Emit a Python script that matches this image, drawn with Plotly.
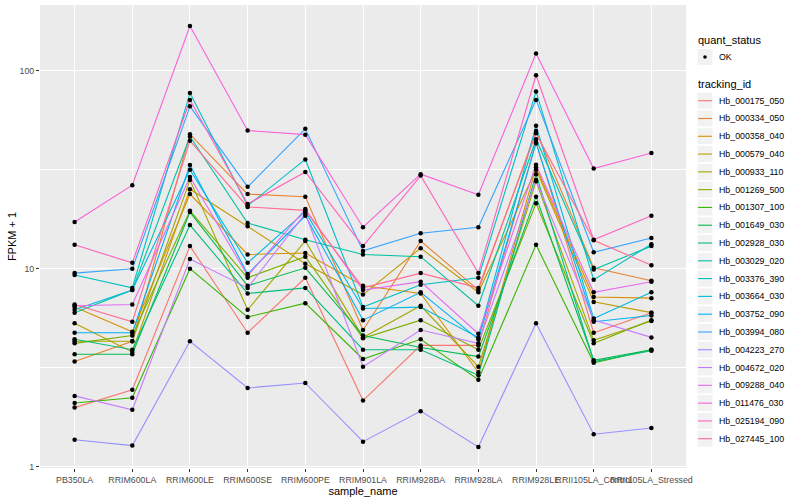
import plotly.graph_objects as go

samples = ["PB350LA", "RRIM600LA", "RRIM600LE", "RRIM600SE", "RRIM600PE", "RRIM901LA",
           "RRIM928BA", "RRIM928LA", "RRIM928LE", "RRII105LA_Control", "RRII105LA_Stressed"]

hb_000175_050 = [1.99, 2.45, 13.0, 4.75, 9.0, 2.16, 4.1, 4.1, 43.5, 4.75, 6.0]
hb_000334_050 = [3.4, 4.3, 47.7, 23.8, 23.1, 4.9, 13.8, 7.8, 49.5, 10.1, 8.7]
hb_000358_040 = [6.4, 4.8, 23.8, 11.8, 12.0, 8.2, 7.5, 3.0, 32.5, 7.2, 7.1]
hb_000579_040 = [5.3, 3.8, 25.2, 16.4, 10.6, 7.4, 12.7, 7.6, 31.6, 6.8, 6.0]
hb_000933_110 = [4.3, 4.3, 28.0, 6.2, 13.8, 4.5, 6.5, 3.2, 27.6, 4.35, 5.45]
hb_001269_500 = [4.2, 4.6, 19.6, 9.0, 11.5, 4.45, 5.5, 3.9, 21.4, 4.2, 5.5]
hb_001307_100 = [2.1, 2.23, 10.0, 5.7, 6.7, 3.5, 4.4, 2.75, 13.2, 3.35, 3.9]
hb_001649_030 = [3.7, 3.7, 19.3, 8.2, 10.1, 4.6, 4.0, 3.6, 23.1, 3.45, 3.9]
hb_002928_030 = [4.4, 3.9, 16.6, 7.5, 8.0, 3.9, 3.9, 2.9, 30.0, 3.4, 3.85]
hb_003029_020 = [6.0, 7.8, 46.5, 17.0, 14.0, 11.8, 11.5, 6.5, 45.0, 9.9, 13.0]
hb_003376_390 = [9.3, 8.0, 77.0, 20.8, 35.6, 6.4, 8.3, 9.0, 78.3, 8.8, 13.3]
hb_003664_030 = [6.2, 7.8, 31.6, 10.7, 19.4, 6.3, 6.4, 4.5, 52.7, 5.6, 7.6]
hb_003752_090 = [4.75, 4.75, 33.4, 9.4, 18.5, 5.5, 7.6, 4.4, 43.0, 5.4, 5.8]
hb_003994_080 = [9.5, 10.0, 66.0, 25.9, 50.8, 12.3, 15.1, 16.2, 71.1, 12.1, 14.3]
hb_004223_270 = [1.37, 1.28, 4.3, 2.5, 2.65, 1.34, 1.91, 1.26, 5.3, 1.46, 1.57]
hb_004672_020 = [2.28, 1.94, 11.2, 8.0, 19.0, 3.2, 4.9, 4.2, 28.0, 5.5, 4.5]
hb_009288_040 = [6.5, 6.6, 29.0, 9.2, 20.0, 7.8, 8.6, 4.7, 33.5, 7.6, 8.6]
hb_011476_030 = [17.2, 26.4, 168.0, 49.8, 47.5, 16.2, 30.0, 23.6, 122.0, 32.0, 38.4]
hb_025194_090 = [13.2, 10.7, 71.0, 21.2, 30.8, 13.0, 29.5, 9.5, 94.7, 14.0, 18.5]
hb_027445_100 = [6.6, 5.4, 44.2, 20.5, 19.7, 8.0, 9.5, 8.0, 48.2, 13.9, 10.4]

tracking_ids = ["Hb_000175_050", "Hb_000334_050", "Hb_000358_040", "Hb_000579_040",
                "Hb_000933_110", "Hb_001269_500", "Hb_001307_100", "Hb_001649_030",
                "Hb_002928_030", "Hb_003029_020", "Hb_003376_390", "Hb_003664_030",
                "Hb_003752_090", "Hb_003994_080", "Hb_004223_270", "Hb_004672_020",
                "Hb_009288_040", "Hb_011476_030", "Hb_025194_090", "Hb_027445_100"]
series = [hb_000175_050, hb_000334_050, hb_000358_040, hb_000579_040, hb_000933_110,
          hb_001269_500, hb_001307_100, hb_001649_030, hb_002928_030, hb_003029_020,
          hb_003376_390, hb_003664_030, hb_003752_090, hb_003994_080, hb_004223_270,
          hb_004672_020, hb_009288_040, hb_011476_030, hb_025194_090, hb_027445_100]
colors = ["#F8766D", "#EA8331", "#D89000", "#C09B00", "#A3A500", "#7CAE00", "#39B600",
          "#00BB4E", "#00BF7D", "#00C1A3", "#00BFC4", "#00BAE0", "#00B0F6", "#35A2FF",
          "#9590FF", "#C77CFF", "#E76BF3", "#FA62DB", "#FF62BC", "#FF6C91"]
status_labels = ["OK"]

FONT = "Liberation Sans, Arial, sans-serif"
W, H = 800, 500
ML, MR, MT, MB = 40, 114, 5, 32
PW, PH = W - ML - MR, H - MT - MB


def px(xp):
    return (xp - ML) / PW


def py(yp):
    return (H - MB - yp) / PH


fig = go.Figure()

for tid, vals, col in zip(tracking_ids, series, colors):
    fig.add_trace(go.Scatter(x=samples, y=vals, mode="lines", name=tid,
                             line=dict(color=col, width=1.1), showlegend=False,
                             hoverinfo="skip"))

all_x, all_y = [], []
for vals in series:
    all_x += samples
    all_y += vals
fig.add_trace(go.Scatter(x=all_x, y=all_y, mode="markers", name=status_labels[0],
                         showlegend=False, marker=dict(color="black", size=4.5)))

# ---- ggplot-style legend (layout decoration) ----
shapes, annots = [], []
LX0, LX1 = 697.5, 712.5          # key box horizontal extent (px)
TX = 716.5                       # label text left (px)


def key_box(yc, h=17.0):
    shapes.append(dict(type="rect", xref="paper", yref="paper",
                       x0=px(LX0), x1=px(LX1), y0=py(yc + h / 2 - 0.5), y1=py(yc - h / 2 + 0.5),
                       fillcolor="#F2F2F2", line=dict(width=0), layer="above"))


def label(text, x, yc, size, color="black"):
    annots.append(dict(text=text, xref="paper", yref="paper", x=px(x), y=py(yc),
                       xanchor="left", yanchor="middle", showarrow=False,
                       font=dict(size=size, family=FONT, color=color)))


label("quant_status", 695.5, 40.5, 11)
key_box(57.0)
shapes.append(dict(type="circle", xref="paper", yref="paper",
                   x0=px(703.2), x1=px(706.8), y0=py(58.8), y1=py(55.2),
                   fillcolor="black", line=dict(width=0), layer="above"))
label(status_labels[0], TX, 57.0, 8.8)

label("tracking_id", 695.5, 84.0, 11)
STEP = 17.79
for i, (tid, col) in enumerate(zip(tracking_ids, colors)):
    yc = 100.7 + i * STEP
    key_box(yc)
    shapes.append(dict(type="line", xref="paper", yref="paper",
                       x0=px(LX0 + 0.5), x1=px(LX1 - 0.5), y0=py(yc), y1=py(yc),
                       line=dict(color=col, width=1.1), layer="above"))
    label(tid, TX, yc, 8.8)

fig.update_layout(
    width=W, height=H,
    margin=dict(l=ML, r=MR, t=MT, b=MB),
    paper_bgcolor="white", plot_bgcolor="#EBEBEB",
    font=dict(family=FONT, color="black"),
    showlegend=False, shapes=shapes, annotations=annots,
)
fig.update_xaxes(
    type="category", categoryorder="array", categoryarray=samples, range=[-0.6, 10.6],
    showgrid=True, gridcolor="white", gridwidth=1.1, zeroline=False, showline=False,
    ticks="outside", ticklen=3, tickcolor="#333333", tickwidth=1, tickangle=0,
    tickfont=dict(size=8.8, color="#4D4D4D", family=FONT),
    title=dict(text="sample_name", font=dict(size=11, family=FONT), standoff=0),
)
fig.update_yaxes(
    type="log", range=[-0.006, 2.331],
    tickvals=[1, 10, 100], ticktext=["1", "10", "100"],
    showgrid=True, gridcolor="white", gridwidth=1.1, zeroline=False, showline=False,
    ticks="outside", ticklen=3, tickcolor="#333333", tickwidth=1,
    tickfont=dict(size=8.8, color="#4D4D4D", family=FONT),
    minor=dict(tickvals=[10 ** 0.5, 10 ** 1.5], showgrid=True, gridcolor="white",
               gridwidth=0.55, ticks=""),
    title=dict(text="FPKM + 1", font=dict(size=11, family=FONT), standoff=0),
)

fig.write_html("out.html", config={"displayModeBar": False},
               post_script="document.body.style.margin='0';document.body.style.overflow='hidden';")
